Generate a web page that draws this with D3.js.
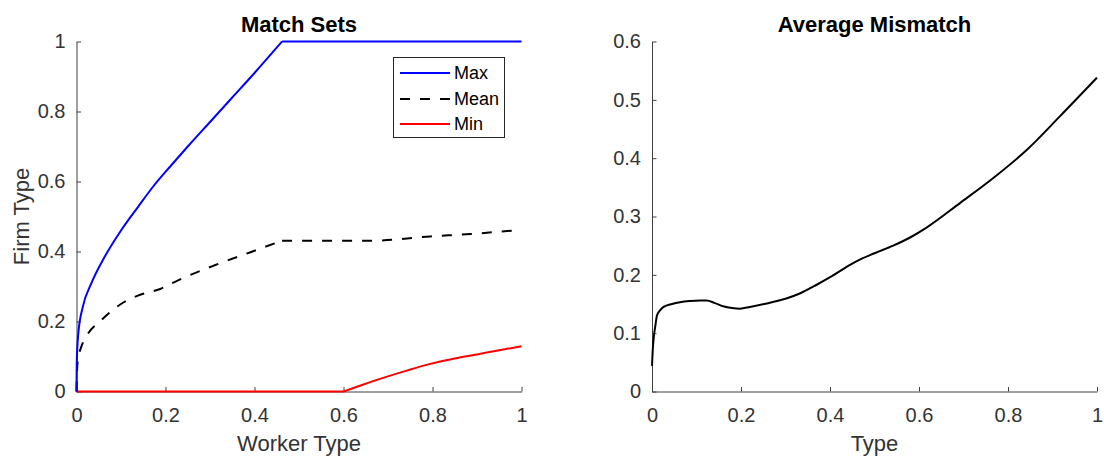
<!DOCTYPE html>
<html><head><meta charset="utf-8">
<script src="https://cdn.jsdelivr.net/npm/d3@7"></script>
<style>
body{margin:0;background:#fff;}
svg{display:block;font-family:"Liberation Sans",Arial,Helvetica,sans-serif;}
</style></head>
<body>
<svg id="c" width="1104" height="457"></svg>
<script>
// ---- Data ----
const xTicks = [0, 0.2, 0.4, 0.6, 0.8, 1];
const yTicksLeft = [0, 0.2, 0.4, 0.6, 0.8, 1];
const yTicksRight = [0, 0.1, 0.2, 0.3, 0.4, 0.5, 0.6];

const maxX = [0, 0.0005, 0.004, 0.014, 0.033, 0.063, 0.10, 0.138, 0.175, 0.212, 0.25, 0.3, 0.35, 0.4, 0.462, 1];
const maxY = [0, 0.079, 0.165, 0.241, 0.308, 0.384, 0.46, 0.527, 0.59, 0.645, 0.70, 0.77, 0.84, 0.91, 1, 1];

const meanX = [0, 0.001, 0.003, 0.01, 0.021, 0.055, 0.10, 0.138, 0.188, 0.227, 0.309, 0.391, 0.462, 0.667, 0.795, 0.885, 1];
const meanY = [0, 0.05, 0.09, 0.125, 0.155, 0.203, 0.25, 0.274, 0.293, 0.317, 0.36, 0.398, 0.431, 0.431, 0.443, 0.45, 0.462];

const minX = [0, 0.6, 0.64, 0.682, 0.74, 0.795, 0.85, 0.9, 0.95, 1];
const minY = [0, 0, 0.018, 0.036, 0.059, 0.079, 0.094, 0.106, 0.118, 0.129];

const mmX = [0, 0.002, 0.004, 0.008, 0.011, 0.018, 0.026, 0.045, 0.063, 0.085, 0.108, 0.123, 0.14, 0.16, 0.18, 0.198, 0.22, 0.258, 0.3, 0.332, 0.37, 0.407, 0.445, 0.467, 0.5, 0.542, 0.58, 0.617, 0.692, 0.767, 0.842, 0.917, 1];
const mmY = [0.044, 0.075, 0.093, 0.115, 0.13, 0.139, 0.145, 0.15, 0.153, 0.155, 0.156, 0.156, 0.152, 0.146, 0.143, 0.142, 0.145, 0.151, 0.159, 0.168, 0.183, 0.199, 0.217, 0.226, 0.237, 0.25, 0.264, 0.281, 0.323, 0.366, 0.414, 0.472, 0.538];

const legendLabels = ["Max", "Mean", "Min"];

// ---- Drawing ----
const svg = d3.select("#c");
const axisColor = "#404040", textColor = "#333";
const fmt = d => d === 0 ? "0" : d === 1 ? "1" : String(d);

function panel(opts) {
  const x = d3.scaleLinear().domain([0, 1]).range([opts.x0, opts.x1]);
  const y = d3.scaleLinear().domain(opts.yDomain).range([391.5, 41.5]);
  const g = svg.append("g");

  const xa = g.append("g").attr("transform", "translate(0,391.5)")
    .call(d3.axisBottom(x).tickValues(xTicks).tickFormat(fmt).tickSizeInner(-4.5).tickSizeOuter(0).tickPadding(12));
  const ya = g.append("g").attr("transform", `translate(${opts.x0},0)`)
    .call(d3.axisLeft(y).tickValues(opts.yTicks).tickFormat(fmt).tickSizeInner(-4.5).tickSizeOuter(0).tickPadding(11));
  [xa, ya].forEach(a => {
    a.select(".domain").attr("stroke", axisColor).attr("stroke-width", 1);
    a.selectAll(".tick line").attr("stroke", axisColor);
    a.selectAll(".tick text").attr("fill", textColor).attr("font-size", 20)
      .attr("font-family", "Liberation Sans, Arial, sans-serif");
  });
  xa.selectAll(".tick text").attr("dy", null).attr("y", 30);

  g.append("text").attr("x", (opts.x0 + opts.x1) / 2).attr("y", 32)
    .attr("text-anchor", "middle").attr("font-weight", "bold").attr("font-size", 22).attr("fill", "#000")
    .text(opts.title);
  g.append("text").attr("x", (opts.x0 + opts.x1) / 2).attr("y", 451)
    .attr("text-anchor", "middle").attr("font-size", 22).attr("fill", textColor)
    .text(opts.xLabel);
  if (opts.yLabel) {
    g.append("text").attr("transform", `translate(28.5,216.5) rotate(-90)`)
      .attr("text-anchor", "middle").attr("font-size", 22).attr("fill", textColor)
      .text(opts.yLabel);
  }
  return {g, x, y};
}

const L = panel({x0: 76.5, x1: 521.5, yDomain: [0, 1], yTicks: yTicksLeft, title: "Match Sets", xLabel: "Worker Type", yLabel: "Firm Type"});
const R = panel({x0: 652, x1: 1097, yDomain: [0, 0.6], yTicks: yTicksRight, title: "Average Mismatch", xLabel: "Type"});

// Draws a series as a smooth path, keeping sharp corners at the given break x-values
function drawLine(P, xs, ys, color, dash, breaks) {
  const pts = xs.map((x, i) => [x, ys[i]]);
  const segs = [];
  let cur = [];
  pts.forEach(p => {
    cur.push(p);
    if ((breaks || []).includes(p[0])) { segs.push(cur); cur = [p]; }
  });
  if (cur.length > 1) segs.push(cur);
  const line = d3.line().x(d => P.x(d[0])).y(d => P.y(d[1])).curve(d3.curveMonotoneX);
  const d = segs.map(s => line(s)).join("");
  P.g.append("path").attr("d", d).attr("fill", "none")
    .attr("stroke", color).attr("stroke-width", 2).attr("stroke-dasharray", dash || null)
    .attr("stroke-linejoin", "round");
}

drawLine(L, minX, minY, "#ff0000", null, [0.6]);
drawLine(L, meanX, meanY, "#000000", "10,10", [0.462]);
drawLine(L, maxX, maxY, "#0000ff", null, [0.462]);
drawLine(R, mmX, mmY, "#000000");

// Legend
const lg = L.g.append("g");
lg.append("rect").attr("x", 393.5).attr("y", 57.5).attr("width", 111).attr("height", 80)
  .attr("fill", "#fff").attr("stroke", "#262626").attr("stroke-width", 1);
const lgColors = ["#0000ff", "#000000", "#ff0000"];
const lgDash = [null, "10,10", null];
const lgY = [73, 99, 124];
legendLabels.forEach((t, i) => {
  lg.append("line").attr("x1", 400).attr("x2", 450).attr("y1", lgY[i]).attr("y2", lgY[i])
    .attr("stroke", lgColors[i]).attr("stroke-width", 2).attr("stroke-dasharray", lgDash[i]);
  lg.append("text").attr("x", 454).attr("y", lgY[i]).attr("dy", "0.35em")
    .attr("font-size", 18).attr("fill", "#000").text(t);
});
</script>
</body></html>
